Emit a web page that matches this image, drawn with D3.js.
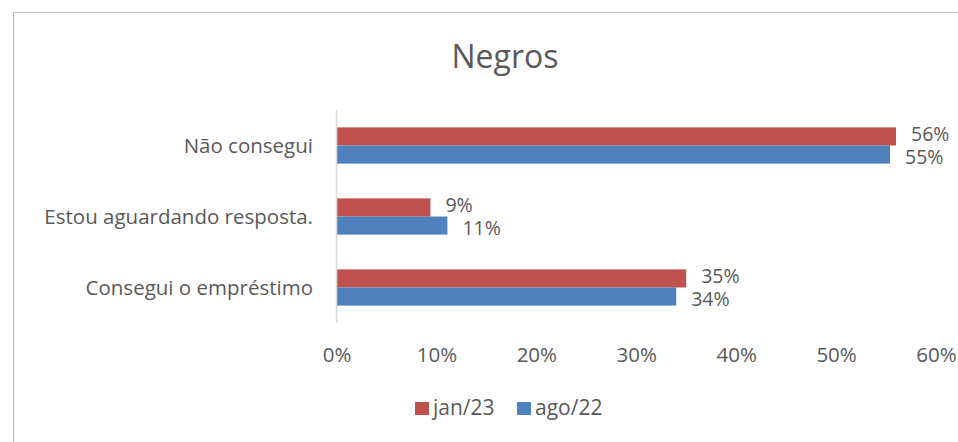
<!DOCTYPE html>
<html><head><meta charset="utf-8">
<script src="https://cdn.jsdelivr.net/npm/d3@7"></script>
<style>body{margin:0;background:#fff}svg{display:block}text{font-family:"Open Sans",sans-serif;fill:#595959}</style>
</head><body>
<svg id="c" width="958" height="442"></svg>
<script>
const categories = ["Não consegui", "Estou aguardando resposta.", "Consegui o empréstimo"];
const seriesNames = ["jan/23", "ago/22"];
const jan23 = [0.56, 0.094, 0.35];
const ago22 = [0.554, 0.111, 0.34];
const tickValues = [0, 0.1, 0.2, 0.3, 0.4, 0.5, 0.6];
const colors = ["#C0504D", "#4F81BD"];

const svg = d3.select("#c");
// chart border
svg.append("path").attr("d","M13.5,442 L13.5,12.5 L958,12.5").attr("fill","none").attr("stroke","#BFBFBF");

svg.append("text").attr("x",505).attr("y",68).attr("text-anchor","middle").style("font-size","32px").text("Negros");

const x = d3.scaleLinear().domain([0,0.6]).range([336.5,936]);
const y = d3.scaleBand().domain(categories).range([110,323]).paddingInner(0.49).paddingOuter(0.245);
const ys = d3.scaleBand().domain(seriesNames).range([0,y.bandwidth()]);

const data = categories.map((c,i)=>({c, vals:[jan23[i], ago22[i]]}));
const g = svg.append("g");
data.forEach(d=>{
  d.vals.forEach((v,j)=>{
    const yy = y(d.c)+ys(seriesNames[j]);
    g.append("rect").attr("x",x(0)).attr("y",yy).attr("width",x(v)-x(0)).attr("height",ys.bandwidth()).attr("fill",colors[j]);
    g.append("text").attr("x",x(v)+15).attr("y",yy+ys.bandwidth()/2+(j===0?-2:3)).attr("dy","0.35em")
      .style("font-size","19.5px").text(d3.format(".0%")(v));
  });
});

// y axis line
svg.append("line").attr("x1",336.5).attr("x2",336.5).attr("y1",110).attr("y2",323).attr("stroke","#D9D9D9").attr("stroke-width",1.5);

// category labels
categories.forEach(c=>{
  svg.append("text").attr("x",313).attr("y",y(c)+y.bandwidth()/2).attr("dy","0.35em").attr("text-anchor","end").style("font-size","20.5px").text(c);
});

// x tick labels
const xa = svg.append("g").attr("transform","translate(0,344)").call(d3.axisBottom(x).tickValues(tickValues).tickFormat(d3.format(".0%")).tickSize(0));
xa.select(".domain").remove();
xa.selectAll("text").style("font-size","20.5px").attr("fill","#595959").style("font-family","'Open Sans',sans-serif");

// legend
const leg = svg.append("g");
const lx = [415, 517];
seriesNames.forEach((s,i)=>{
  leg.append("rect").attr("x",lx[i]).attr("y",402).attr("width",14).attr("height",13).attr("fill",colors[i]);
  leg.append("text").attr("x",lx[i]+18).attr("y",408).attr("dy","0.35em").style("font-size","21px").text(s);
});
</script>
</body></html>
